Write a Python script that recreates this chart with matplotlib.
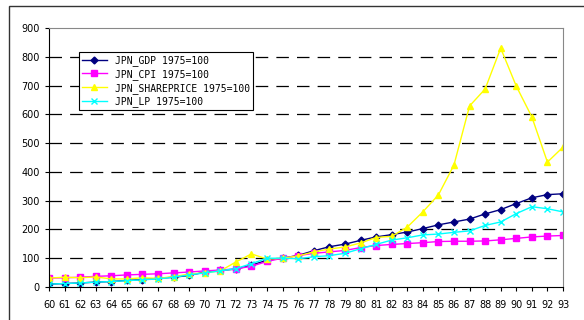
import matplotlib
matplotlib.use("Agg")
import matplotlib.pyplot as plt
from matplotlib.patches import Rectangle

years = [str(y) for y in range(60, 94)]

gdp = [10, 12, 14, 17, 19, 23, 26, 30, 34, 40, 52, 58, 62, 76, 93, 100, 110, 126,
       140, 149, 162, 174, 182, 191, 203, 216, 226, 236, 254, 269, 290, 310, 321, 324]
cpi = [31, 32, 34, 37, 39, 42, 44, 46, 49, 52, 56, 59, 63, 72, 89, 100, 109, 117,
       122, 127, 137, 144, 148, 151, 154, 158, 159, 159, 160, 164, 169, 174, 177, 179]
share = [31, 34, 32, 35, 28, 28, 32, 30, 36, 45, 49, 56, 87, 115, 97, 100, 108, 122,
         132, 139, 153, 172, 176, 208, 261, 320, 424, 629, 688, 830, 698, 591, 434, 486]
lp = [10, 12, 14, 17, 19, 22, 25, 28, 34, 42, 49, 56, 64, 81, 100, 100, 98, 105,
      109, 117, 133, 148, 163, 171, 181, 184, 190, 195, 214, 226, 255, 279, 272, 261]

fig = plt.figure(figsize=(5.84, 3.2), dpi=100)
# outer chart border
fig.patches.append(Rectangle((9 / 584, -0.05), 1.0, 1 - 6 / 320 + 0.05,
                             transform=fig.transFigure, fill=False,
                             edgecolor='#333333', linewidth=1.0))

ax = fig.add_axes([49 / 584, 1 - 287 / 320, 514 / 584, 259 / 320])
x = range(len(years))

ax.plot(x, gdp, color='#000080', marker='D', markersize=3.5, linewidth=1,
        label='JPN_GDP 1975=100')
ax.plot(x, cpi, color='#FF00FF', marker='s', markersize=5, linewidth=1,
        label='JPN_CPI 1975=100')
ax.plot(x, share, color='#FFFF00', marker='^', markersize=5, linewidth=1,
        label='JPN_SHAREPRICE 1975=100')
ax.plot(x, lp, color='#00FFFF', marker='x', markersize=5, linewidth=1,
        label='JPN_LP 1975=100')

ax.set_xlim(0, len(years) - 1)
ax.set_ylim(0, 900)
ax.set_yticks(range(0, 1000, 100))
ax.set_xticks(list(x))
ax.set_xticklabels(years)
ax.tick_params(axis='both', direction='out', length=3, labelsize=7)
ax.tick_params(axis='x', pad=6)

for v in range(100, 900, 100):
    ax.axhline(v, color='black', linestyle=(0, (10, 6.5)), linewidth=0.9, zorder=0)

ax.spines['top'].set_color('#888888')
ax.spines['right'].set_color('#888888')
ax.spines['left'].set_color('black')
ax.spines['bottom'].set_color('black')

leg = ax.legend(loc='upper left', bbox_to_anchor=(0.058, 0.907), borderaxespad=0,
                fancybox=False, edgecolor='black', framealpha=1,
                prop={'family': 'DejaVu Sans Mono', 'size': 7},
                handlelength=2.6, labelspacing=0.3, borderpad=0.3)
leg.get_frame().set_linewidth(0.8)

fig.savefig('out.png', dpi=100)
